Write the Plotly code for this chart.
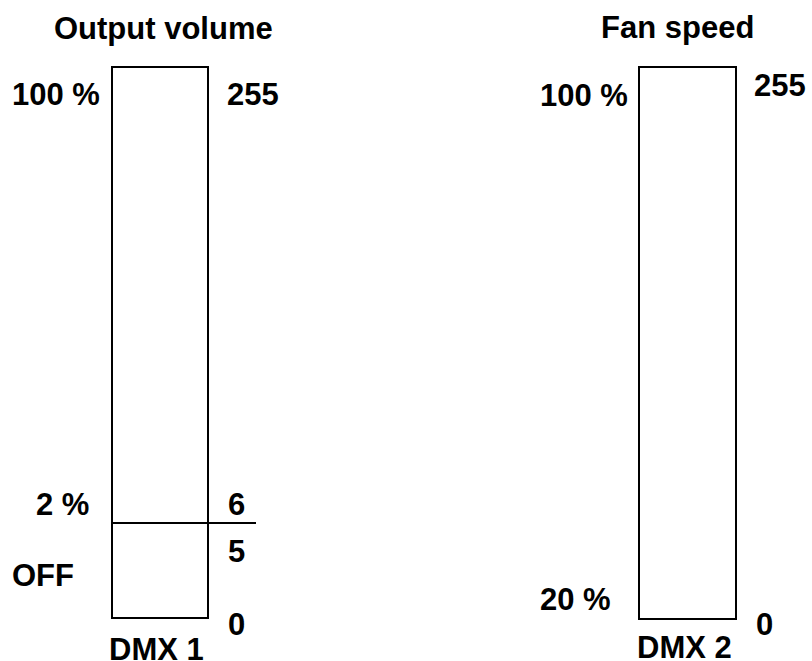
import plotly.graph_objects as go

# ---- data (diagram content) ----
titles = ["Output volume", "Fan speed"]
channels = ["DMX 1", "DMX 2"]
dmx_values_1 = ["255", "6", "5", "0"]
pct_labels_1 = ["100 %", "2 %", "OFF"]
dmx_values_2 = ["255", "0"]
pct_labels_2 = ["100 %", "20 %"]

# ---- layout (pixel canvas) ----
W, H = 812, 661
FONT = dict(family="Liberation Sans, Arial, sans-serif", size=31, color="black")

bar1 = dict(x0=112, x1=208, y0=67, y1=618)
bar2 = dict(x0=639, x1=736, y0=67, y1=619)
divider = dict(x0=112, x1=256, y=523)

title_pos = [(163, 28), (677, 27)]
channel_pos = [(156, 649), (684, 647)]
dmx_pos_1 = [(253, 94), (236, 504), (236, 551), (236, 624)]
pct_pos_1 = [(56, 94), (62, 504), (43, 575)]
dmx_pos_2 = [(780, 85), (764, 624)]
pct_pos_2 = [(584, 95), (575, 599)]

fig = go.Figure()

for b in (bar1, bar2):
    fig.add_shape(type="rect", x0=b["x0"], x1=b["x1"], y0=b["y0"], y1=b["y1"],
                  line=dict(color="black", width=2), fillcolor="white", layer="below")
fig.add_shape(type="line", x0=divider["x0"], x1=divider["x1"], y0=divider["y"], y1=divider["y"],
              line=dict(color="black", width=2))

def label(text, pos):
    fig.add_annotation(x=pos[0], y=pos[1], text="<b>%s</b>" % text, showarrow=False,
                       xanchor="center", yanchor="middle", font=FONT)

for t, p in zip(titles, title_pos):
    label(t, p)
for t, p in zip(channels, channel_pos):
    label(t, p)
for t, p in zip(dmx_values_1, dmx_pos_1):
    label(t, p)
for t, p in zip(pct_labels_1, pct_pos_1):
    label(t, p)
for t, p in zip(dmx_values_2, dmx_pos_2):
    label(t, p)
for t, p in zip(pct_labels_2, pct_pos_2):
    label(t, p)

fig.update_layout(
    width=W, height=H, margin=dict(l=0, r=0, t=0, b=0),
    paper_bgcolor="white", plot_bgcolor="white", showlegend=False,
    xaxis=dict(range=[0, W], visible=False, fixedrange=True),
    yaxis=dict(range=[H, 0], visible=False, fixedrange=True),
)

fig.write_html("out.html", config={"displayModeBar": False},
               post_script="document.body.style.margin='0px';document.body.style.overflow='hidden';")
